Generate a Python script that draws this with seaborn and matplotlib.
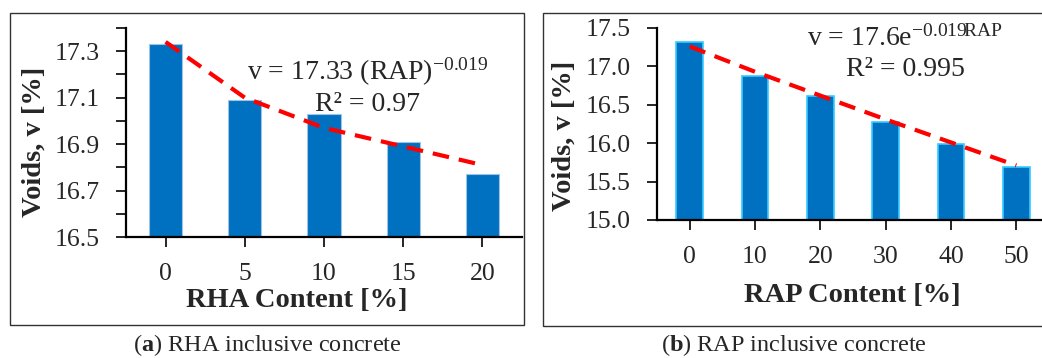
import numpy as np
import matplotlib.pyplot as plt
import seaborn as sns
from matplotlib.patches import Rectangle

# Dados
rha_cats = ['0', '5', '10', '15', '20']
rha_voids = [17.33, 17.09, 17.03, 16.91, 16.77]
rha_trend = [17.34, 17.10, 16.97, 16.89, 16.81]

rap_cats = ['0', '10', '20', '30', '40', '50']
rap_voids = [17.32, 16.87, 16.61, 16.28, 15.99, 15.69]
rap_trend = [17.26, 16.93, 16.62, 16.31, 16.01, 15.71]

sns.set_style('ticks')
plt.rcParams['font.family'] = ['Liberation Serif', 'DejaVu Serif']
plt.rcParams['mathtext.fontset'] = 'custom'
plt.rcParams['mathtext.rm'] = 'Liberation Serif'
plt.rcParams['mathtext.it'] = 'Liberation Serif:italic'
plt.rcParams['mathtext.bf'] = 'Liberation Serif:bold'

W, H = 1042, 358
fig = plt.figure(figsize=(W / 100, H / 100), dpi=100)

def box(x0, y0, x1, y1):
    return [x0 / W, 1 - y1 / H, (x1 - x0) / W, (y1 - y0) / H]

# Molduras dos painéis
fig.add_artist(Rectangle((10 / W, 1 - 325 / H), 514 / W, 312 / H, transform=fig.transFigure,
                         fill=False, edgecolor='#333333', lw=1.0))
fig.add_artist(Rectangle((543 / W, 1 - 326 / H), 520 / W, 313 / H, transform=fig.transFigure,
                         fill=False, edgecolor='#333333', lw=1.0))

bar_color = '#0070C0'
dash = dict(color='red', lw=3, dashes=(4, 2.4))

# ----- (a) RHA -----
ax1 = fig.add_axes(box(126, 28, 522, 237))
sns.barplot(x=rha_cats, y=rha_voids, color=bar_color, saturation=1, width=0.42,
            edgecolor='#9DC3E6', linewidth=0.8, ax=ax1)
ax1.plot(np.arange(len(rha_cats)), rha_trend, **dash)
ax1.set_ylim(16.5, 17.4)
ax1.set_xlim(-0.5, len(rha_cats) - 0.5)
yt = np.round(np.arange(16.5, 17.41, 0.1), 1)
ax1.set_yticks(yt)
ax1.set_yticklabels([f'{v:.1f}' if i % 2 == 0 else '' for i, v in enumerate(yt)])
ax1.text(2.55, 17.21, 'v = 17.33 (RAP)$^{\\mathrm{-0.019}}$', ha='center', va='center', fontsize=20)
ax1.text(2.55, 17.07, 'R² = 0.97', ha='center', va='center', fontsize=20)
ax1.set_ylabel('Voids, v [%]', fontsize=20.5, fontweight='bold')
ax1.set_xlabel('RHA Content [%]', fontsize=20.5, fontweight='bold')
ax1.yaxis.set_label_coords(-0.2, 0.455)
ax1.xaxis.set_label_coords(0.432, -0.244)

# ----- (b) RAP -----
ax2 = fig.add_axes(box(657, 28, 1049, 220))
sns.barplot(x=rap_cats, y=rap_voids, color=bar_color, saturation=1, width=0.41,
            edgecolor='#33CCFF', linewidth=1.2, ax=ax2)
ax2.plot(np.arange(len(rap_cats)), rap_trend, **dash)
ax2.set_ylim(15.0, 17.5)
ax2.set_xlim(-0.5, len(rap_cats) - 0.5)
ax2.set_yticks(np.arange(15.0, 17.51, 0.5))
ax2.yaxis.set_major_formatter(plt.FormatStrFormatter('%.1f'))
ax2.text(3.3, 17.36, 'v = 17.6e$^{\\mathrm{-0.019RAP}}$', ha='center', va='center', fontsize=20)
ax2.text(3.3, 16.96, 'R² = 0.995', ha='center', va='center', fontsize=20)
ax2.set_ylabel('Voids, v [%]', fontsize=20.5, fontweight='bold')
ax2.set_xlabel('RAP Content [%]', fontsize=20.5, fontweight='bold')
ax2.yaxis.set_label_coords(-0.204, 0.4375)
ax2.xaxis.set_label_coords(0.497, -0.328)

for ax in (ax1, ax2):
    sns.despine(ax=ax)
    for s in ('left', 'bottom'):
        ax.spines[s].set_linewidth(1.6)
        ax.spines[s].set_color('black')
    ax.tick_params(axis='both', direction='out', length=7, width=1.2, labelsize=18.5, color='black')
    ax.tick_params(axis='y', pad=12)
    ax.tick_params(axis='x', pad=12)

# Legendas dos painéis
fig.text(267 / W, 1 - 345 / H, r'($\mathbf{a}$) RHA inclusive concrete', ha='center', va='center', fontsize=17.5)
fig.text(794 / W, 1 - 345 / H, r'($\mathbf{b}$) RAP inclusive concrete', ha='center', va='center', fontsize=17.5)

fig.savefig('out.png', dpi=100)
